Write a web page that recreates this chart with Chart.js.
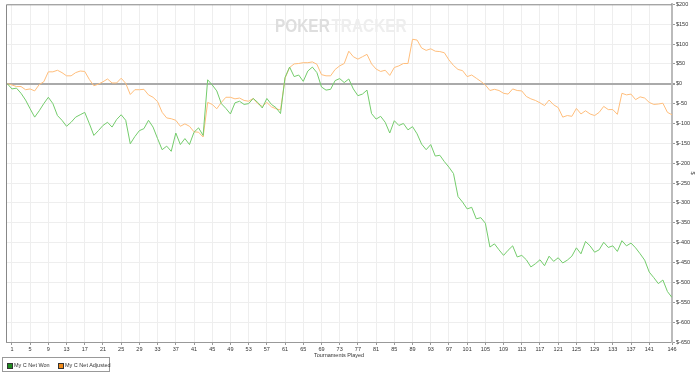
<!DOCTYPE html>
<html>
<head>
<meta charset="utf-8">
<script src="https://cdn.jsdelivr.net/npm/chart.js@4.4.0/dist/chart.umd.min.js"></script>
<style>
  body { margin: 0; background: #fff; }
  #wrap { position: relative; width: 700px; height: 375px; }
  #legend { position: absolute; left: 2px; top: 357px; width: 108px; height: 15px; border: 1px solid #999; box-sizing: border-box;
            font: 5.5px "Liberation Sans", Arial, sans-serif; color: #333; }
  #legend .sw { position: absolute; top: 5px; width: 4px; height: 4px; border: 1px solid #333; }
  #legend .tx { position: absolute; top: 4px; white-space: nowrap; line-height: 6px; }
</style>
</head>
<body>
<div id="wrap">
  <canvas id="pokerChart" width="700" height="375"></canvas>
  <div id="legend">
    <span class="sw" style="left:4px;background:#1e8c1e"></span><span class="tx" style="left:11px">My C Net Won</span>
    <span class="sw" style="left:55px;background:#f08a1a"></span><span class="tx" style="left:62px">My C Net Adjusted</span>
  </div>
</div>
<script>
var xTickLabels = [1, 5, 9, 13, 17, 21, 25, 29, 33, 37, 41, 45, 49, 53, 57, 61, 65, 69, 73, 77, 81, 85, 89, 93, 97,
    101, 105, 109, 113, 117, 121, 125, 129, 133, 137, 141, 146];

// cumulative $ after each tournament (point 0 = start)
var netWon = [
    0, -13, -11, -24, -41, -63, -84, -68, -50, -34,
    -50, -80, -92, -107, -97, -84, -78, -72, -100, -130,
    -118, -105, -97, -109, -90, -78, -92, -151, -133, -118,
    -113, -92, -109, -138, -166, -157, -170, -124, -153, -138,
    -153, -122, -111, -130, 10, -3, -18, -50, -62, -76,
    -48, -44, -52, -50, -37, -47, -61, -37, -52, -60,
    -75, 16, 42, 18, 22, 6, 32, 42, 28, -8,
    -16, -14, 8, 13, 3, 12, -13, -30, -26, -16,
    -75, -89, -82, -97, -124, -93, -105, -100, -116, -108,
    -126, -152, -166, -153, -182, -180, -196, -210, -226, -284,
    -298, -315, -311, -340, -337, -351, -411, -403, -418, -432,
    -419, -408, -436, -432, -443, -461, -453, -443, -458, -434,
    -447, -438, -451, -444, -434, -413, -428, -397, -408, -424,
    -418, -399, -412, -408, -422, -395, -408, -401, -413, -428,
    -444, -474, -488, -503, -494, -523, -538
];

var netAdjusted = [
    0, -3, -7, -7, -15, -13, -18, -2, 5, 30,
    30, 34, 28, 20, 20, 28, 32, 31, 11, -5,
    -1, 5, 12, 2, 2, 14, 1, -27, -15, -15,
    -14, -28, -34, -45, -72, -86, -88, -92, -107, -101,
    -107, -121, -122, -134, -47, -52, -63, -47, -34, -34,
    -38, -36, -42, -44, -37, -50, -57, -47, -58, -63,
    -66, 14, 41, 50, 51, 53, 53, 55, 49, 23,
    20, 20, 36, 45, 51, 82, 68, 62, 68, 74,
    50, 37, 31, 34, 21, 41, 45, 51, 51, 112,
    110, 90, 84, 88, 82, 81, 78, 60, 46, 36,
    33, 18, 22, 14, 6, -3, -17, -14, -17, -24,
    -26, -13, -17, -18, -32, -38, -42, -48, -55, -41,
    -53, -60, -84, -80, -82, -62, -76, -68, -76, -80,
    -72, -57, -65, -65, -77, -24, -28, -26, -40, -33,
    -36, -47, -52, -51, -49, -72, -78
];

var tournaments = netWon.map(function (_, i) { return i; });

var tickFont = { family: '"Liberation Sans", Arial, sans-serif', size: 5.5 };

var watermark = {
    id: 'watermark',
    beforeDatasetsDraw: function (chart) {
        var c = chart.ctx;
        c.save();
        c.font = 'bold 18px "Liberation Sans", Arial, sans-serif';
        c.textBaseline = 'alphabetic';
        var w1 = c.measureText('POKER').width;
        var w2 = c.measureText('TRACKER').width;
        var k = 130 / (w1 + w2);
        c.translate(275, 31.5);
        c.scale(k, 1);
        c.fillStyle = '#dedede';
        c.fillText('POKER', 0, 0);
        c.fillStyle = '#eeeeee';
        c.fillText('TRACKER', w1 + 2, 0);
        c.restore();
    }
};

var frame = {
    id: 'frame',
    afterDraw: function (chart) {
        var a = chart.chartArea, c = chart.ctx;
        c.save();
        c.strokeStyle = '#888';
        c.lineWidth = 1;
        c.beginPath();
        c.moveTo(a.left + 0.5, a.bottom);
        c.lineTo(a.left + 0.5, a.top + 0.5);
        c.lineTo(a.right, a.top + 0.5);
        c.stroke();
        c.restore();
    }
};

var ctx = document.getElementById('pokerChart').getContext('2d');
window.pokerChart = new Chart(ctx, {
    type: 'line',
    data: {
        labels: tournaments,
        datasets: [{
            label: 'My C Net Won',
            data: netWon,
            borderColor: '#74cc6c',
            borderWidth: 1,
            pointRadius: 0,
            tension: 0
        },
        {
            label: 'My C Net Adjusted',
            data: netAdjusted,
            borderColor: '#ffbe7c',
            borderWidth: 1,
            pointRadius: 0,
            tension: 0
        }]
    },
    options: {
        responsive: false,
        animation: false,
        layout: { padding: { left: 6, top: 3, right: 0, bottom: 16 } },
        plugins: {
            legend: { display: false },
            tooltip: { enabled: false }
        },
        scales: {
            x: {
                type: 'linear',
                min: -0.3,
                max: 146,
                afterBuildTicks: function (s) {
                    s.ticks = xTickLabels.map(function (v) { return { value: v }; });
                },
                afterFit: function (s) { s.height = 17; },
                ticks: {
                    autoSkip: false, maxRotation: 0, padding: 1,
                    font: tickFont, color: '#333',
                    callback: function (v) { return String(v); }
                },
                grid: { color: '#eeeeee', tickLength: 3, tickColor: '#999' },
                border: { color: '#999', width: 1 },
                title: { display: true, text: 'Tournaments Played', font: tickFont, color: '#333', padding: 0 }
            },
            y: {
                position: 'right',
                min: -650,
                max: 200,
                afterFit: function (s) { s.width = 28; },
                ticks: {
                    stepSize: 50, padding: 1, font: tickFont, color: '#333',
                    callback: function (v) { return '$' + v; }
                },
                grid: {
                    color: function (c) { return c.tick && c.tick.value === 0 ? '#aaaaaa' : '#eeeeee'; },
                    lineWidth: function (c) { return c.tick && c.tick.value === 0 ? 2 : 1; },
                    tickLength: 3,
                    tickColor: '#999'
                },
                border: { color: '#bbb', width: 2 },
                title: { display: true, text: '$', font: tickFont, color: '#333', padding: 4 }
            }
        }
    },
    plugins: [watermark, frame]
});
</script>
</body>
</html>
